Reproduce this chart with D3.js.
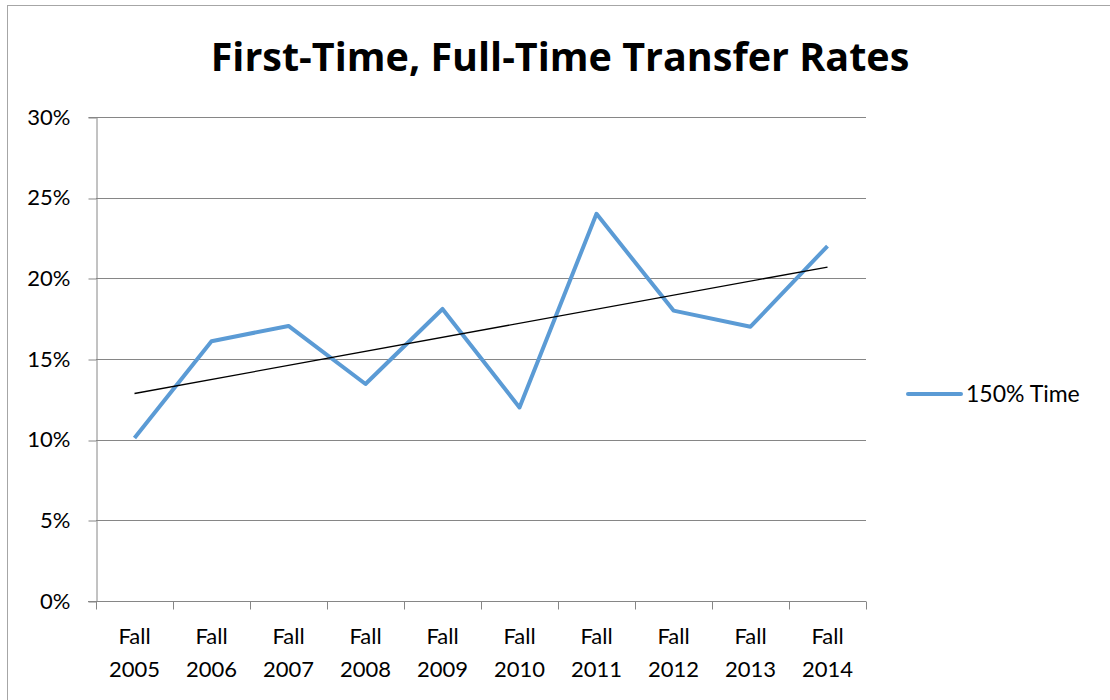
<!DOCTYPE html>
<html>
<head>
<meta charset="utf-8">
<script src="https://cdn.jsdelivr.net/npm/d3@7"></script>
<style>
  body { margin: 0; background: #fff; }
  svg { display: block; font-family: Lato, "Open Sans", sans-serif; }
</style>
</head>
<body>
<div id="chart"></div>
<script>
const categorias = ["Fall 2005", "Fall 2006", "Fall 2007", "Fall 2008", "Fall 2009",
                    "Fall 2010", "Fall 2011", "Fall 2012", "Fall 2013", "Fall 2014"];
const valores = [10.1, 16.1, 17.05, 13.45, 18.1, 12.0, 24.0, 18.0, 17.0, 22.0];
const ticksY = [0, 5, 10, 15, 20, 25, 30];
const serie = "150% Time";
const titulo = "First-Time, Full-Time Transfer Rates";

const W = 1110, H = 700;
const margin = {top: 117, right: 244, bottom: 99, left: 96};
const width = W - margin.left - margin.right,
      height = H - margin.top - margin.bottom;

const svg = d3.select("#chart").append("svg")
    .attr("width", W)
    .attr("height", H);

// borde exterior
svg.append("rect")
    .attr("x", 7.5).attr("y", 5.5)
    .attr("width", W).attr("height", H)
    .attr("fill", "none")
    .attr("stroke", "#a6a6a6");

// titulo
svg.append("text")
    .attr("x", 560)
    .attr("y", 71)
    .attr("text-anchor", "middle")
    .style("font-family", "'Open Sans', sans-serif")
    .style("font-size", "39.5px")
    .style("font-weight", "bold")
    .text(titulo);

const g = svg.append("g")
    .attr("transform", "translate(" + margin.left + "," + margin.top + ")");

const x = d3.scaleBand().domain(categorias).range([0, width]);
const y = d3.scaleLinear().domain([0, 30]).range([height, 0]);

// lineas de rejilla
g.selectAll(".grid")
    .data(ticksY.filter(d => d > 0))
    .enter()
    .append("line")
    .attr("x1", 0).attr("x2", width)
    .attr("y1", d => Math.round(y(d)) + 0.5)
    .attr("y2", d => Math.round(y(d)) + 0.5)
    .attr("stroke", "#868686");

// eje Y
const ejeY = g.append("g")
    .attr("transform", "translate(0.5,0)")
    .call(d3.axisLeft(y).tickValues(ticksY).tickSize(8).tickPadding(18)
        .tickFormat(d => d + "%"));
ejeY.selectAll("line").attr("stroke", "#868686")
    .attr("transform", d => "translate(0," + (Math.round(y(d)) + 0.5 - y(d)) + ")");
ejeY.select(".domain").attr("stroke", "#868686");
ejeY.selectAll("text").style("font-size", "22px").attr("fill", "#000");
ejeY.attr("font-family", null);

// eje X
const ejeX = g.append("g")
    .attr("transform", "translate(0," + (height + 0.5) + ")");
ejeX.append("line")
    .attr("x1", -8).attr("x2", width)
    .attr("stroke", "#868686");
ejeX.selectAll(".tick")
    .data(d3.range(categorias.length + 1))
    .enter()
    .append("line")
    .attr("x1", i => Math.round(i * x.step()) + 0.5)
    .attr("x2", i => Math.round(i * x.step()) + 0.5)
    .attr("y1", 0).attr("y2", 8)
    .attr("stroke", "#868686");
const etiquetas = ejeX.selectAll(".lbl")
    .data(categorias)
    .enter()
    .append("text")
    .attr("text-anchor", "middle")
    .attr("x", d => x(d) + x.bandwidth() / 2)
    .style("font-size", "22px");
etiquetas.append("tspan").attr("x", d => x(d) + x.bandwidth() / 2).attr("y", 42)
    .text(d => d.split(" ")[0]);
etiquetas.append("tspan").attr("x", d => x(d) + x.bandwidth() / 2).attr("y", 75)
    .text(d => d.split(" ")[1]);

// serie
const puntos = categorias.map((c, i) => [x(c) + x.bandwidth() / 2, y(valores[i])]);
g.append("path")
    .datum(puntos)
    .attr("fill", "none")
    .attr("stroke", "#5b9bd5")
    .attr("stroke-width", 4)
    .attr("stroke-linejoin", "round")
    .attr("d", d3.line());

// linea de tendencia (regresion lineal)
const n = valores.length;
const mx = d3.mean(d3.range(n)), my = d3.mean(valores);
const pendiente = d3.sum(valores, (v, i) => (i - mx) * (v - my)) /
                  d3.sum(d3.range(n), i => (i - mx) * (i - mx));
const corte = my - pendiente * mx;
g.append("line")
    .attr("x1", x(categorias[0]) + x.bandwidth() / 2)
    .attr("x2", x(categorias[n - 1]) + x.bandwidth() / 2)
    .attr("y1", y(corte))
    .attr("y2", y(corte + pendiente * (n - 1)))
    .attr("stroke", "#000")
    .attr("stroke-width", 1.3);

// leyenda
const ley = svg.append("g").attr("transform", "translate(908,394)");
ley.append("line")
    .attr("x1", 0).attr("x2", 53)
    .attr("stroke", "#5b9bd5")
    .attr("stroke-width", 4)
    .attr("stroke-linecap", "round");
ley.append("text")
    .attr("x", 58)
    .attr("dy", "0.35em")
    .style("font-size", "23px")
    .text(serie);
</script>
</body>
</html>
